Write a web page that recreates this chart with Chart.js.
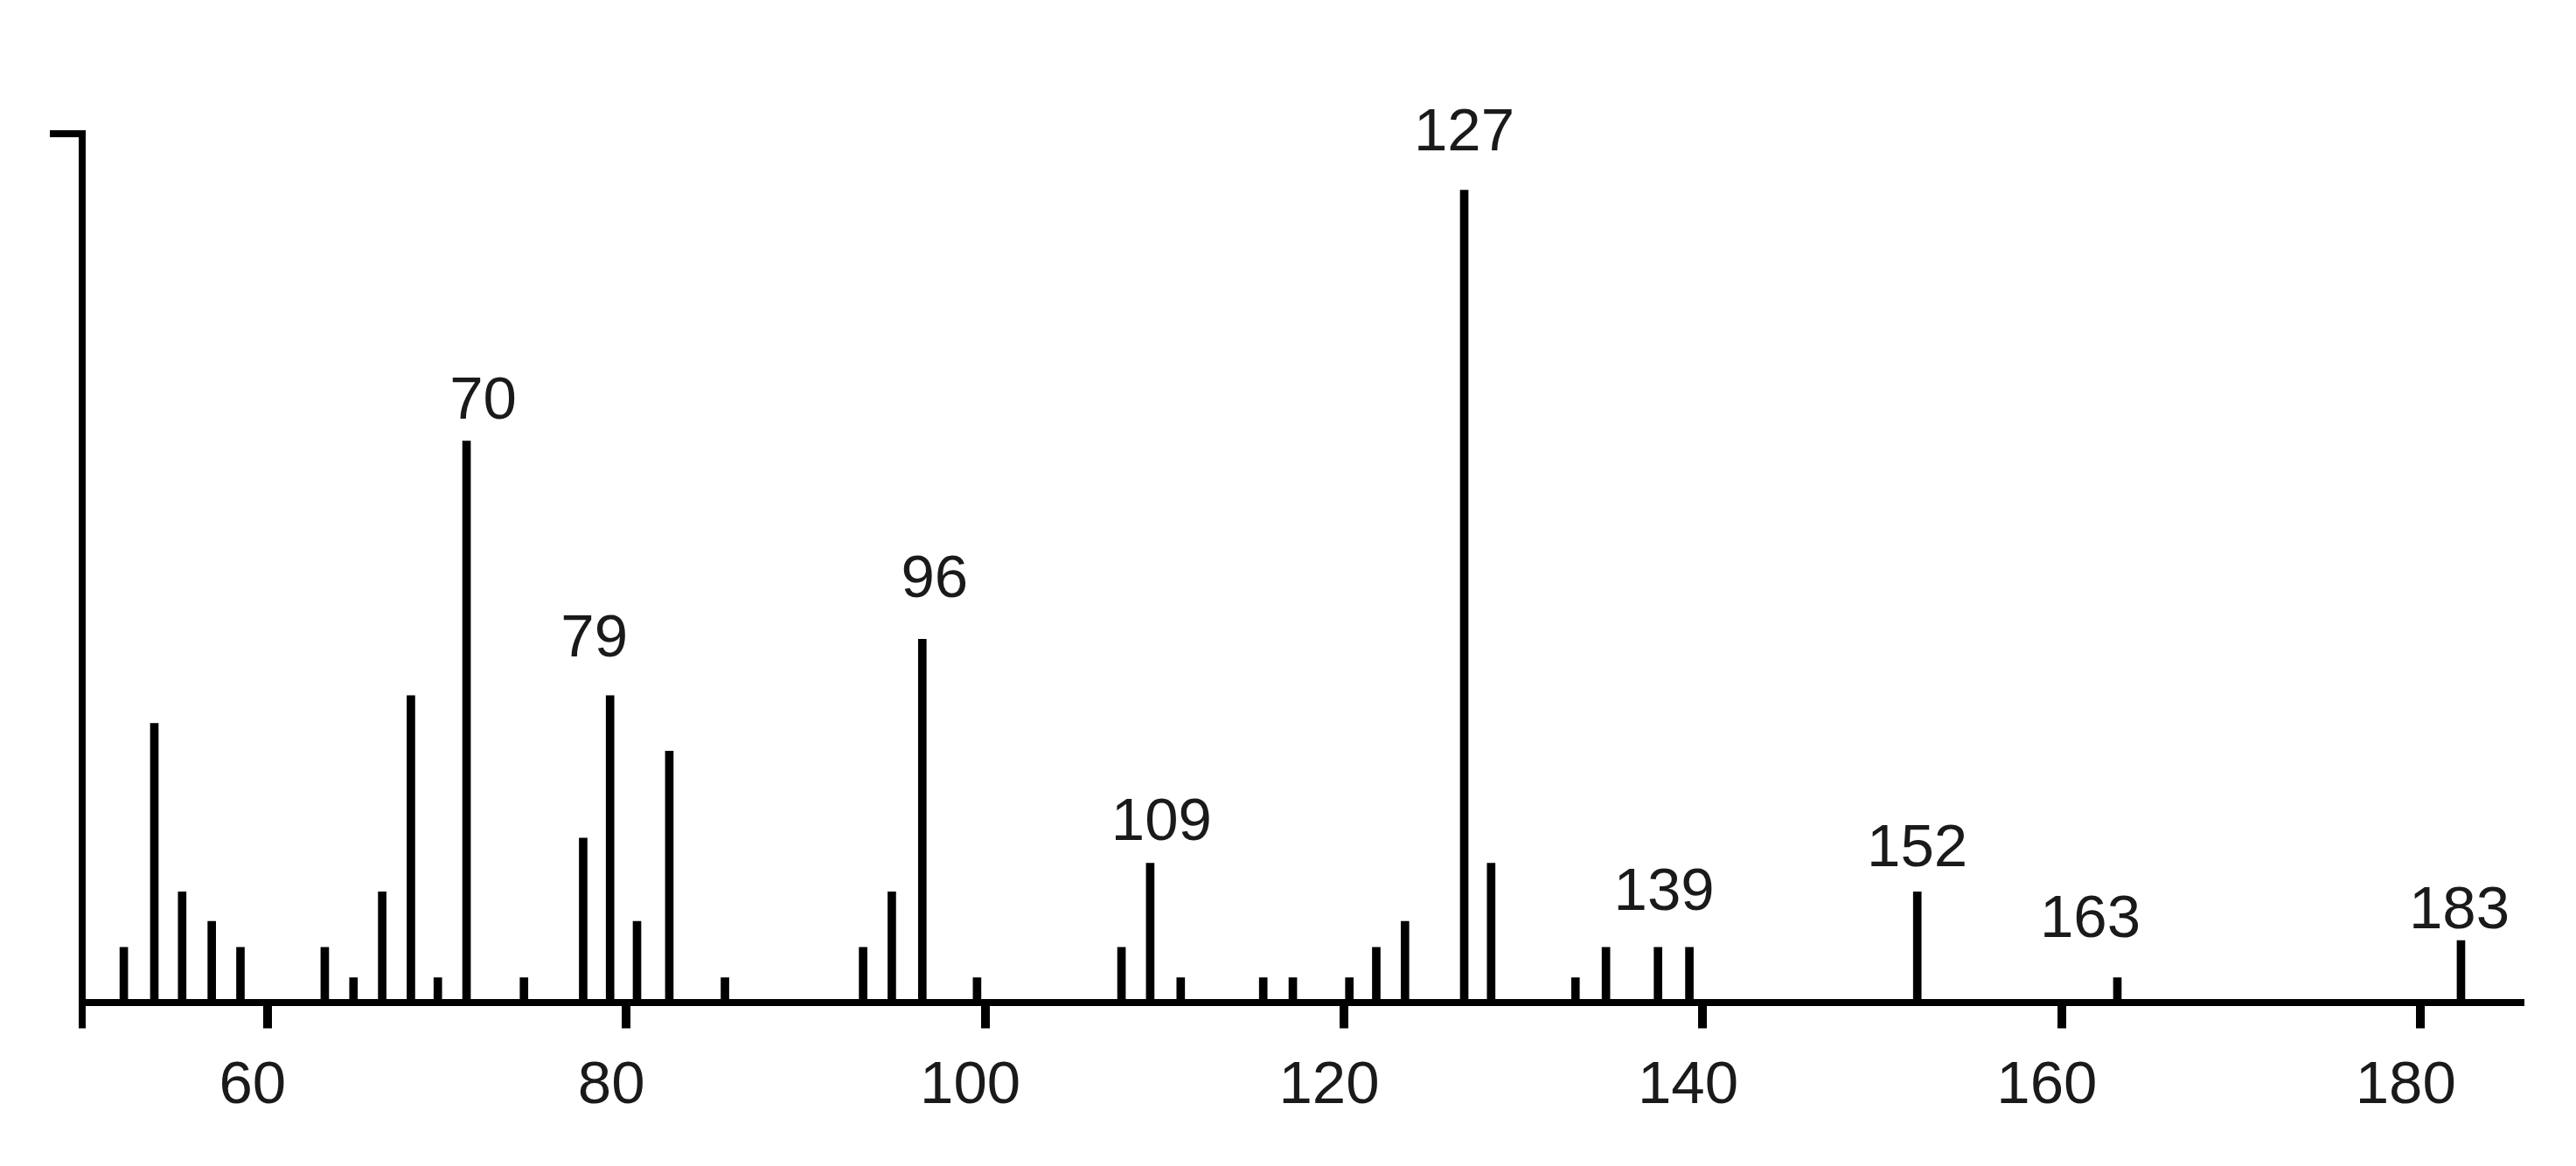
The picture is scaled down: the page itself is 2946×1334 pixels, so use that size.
<!DOCTYPE html>
<html>
<head>
<meta charset="utf-8">
<script src="https://cdn.jsdelivr.net/npm/chart.js@4.4.1/dist/chart.umd.min.js"></script>
<style>
  html, body { margin: 0; padding: 0; background: #fff; }
  canvas { display: block; }
</style>
</head>
<body>
<canvas id="spectrum" width="2946" height="1334"></canvas>
<script>
// peak positions (m/z) and relative intensities
const mz = [52.0, 53.7, 55.25, 56.9, 58.5, 63.2, 64.8, 66.4, 68.0, 69.5,
            71.1, 74.3, 77.6, 79.1, 80.6, 82.4, 85.5, 93.2, 94.8, 96.5,
            99.55, 107.6, 109.2, 110.9, 115.5, 117.15, 120.3, 121.8, 123.4, 126.7,
            128.2, 132.9, 134.6, 137.5, 139.25, 151.95, 163.1, 182.25];
const intensity = [6.3, 32.1, 12.7, 9.3, 6.3, 6.3, 2.8, 12.7, 35.3, 2.8,
                   64.6, 2.8, 18.9, 35.3, 9.3, 28.9, 2.8, 6.3, 12.7, 41.8,
                   2.8, 6.3, 16.0, 2.8, 2.8, 2.8, 2.8, 6.3, 9.3, 93.5,
                   16.0, 2.8, 6.3, 6.3, 6.3, 12.7, 2.8, 7.1];

// annotated peaks: text and index into mz
const peakLabels = ['70', '79', '96', '109', '127', '139', '152', '163', '183'];
const labelledPeak = [10, 13, 19, 22, 29, 33, 35, 36, 37];

const xTicks = [60, 80, 100, 120, 140, 160, 180];
const xMin = 49.68;
const xMax = 185.59;

const FONT = '"Liberation Sans", Arial, Helvetica, sans-serif';
Chart.defaults.font.family = FONT;
Chart.defaults.color = '#1a1a1a';

// small per-label nudges [dx, gap above bar top] to sit like the original
const labelNudge = {
    '70': [19, 26], '79': [-18, 45], '96': [14, 48], '109': [13, 27],
    '127': [0, 46], '139': [7, 43], '152': [0, 29], '163': [-31, 47], '183': [-2, 14]
};

const peakLabelPlugin = {
    id: 'peakLabels',
    afterDatasetsDraw(chart) {
        const { ctx } = chart;
        const meta = chart.getDatasetMeta(0);
        ctx.save();
        ctx.font = '69px ' + FONT;
        ctx.fillStyle = '#1a1a1a';
        ctx.textAlign = 'center';
        ctx.textBaseline = 'alphabetic';
        peakLabels.forEach((text, i) => {
            const bar = meta.data[labelledPeak[i]];
            const [dx, gap] = labelNudge[text];
            ctx.fillText(text, bar.x + dx, bar.y - gap);
        });
        ctx.restore();
    }
};

new Chart(document.getElementById('spectrum'), {
    type: 'bar',
    data: {
        datasets: [{
            data: mz.map((x, i) => ({ x: x, y: intensity[i] })),
            backgroundColor: '#000',
            barThickness: 9
        }]
    },
    options: {
        responsive: false,
        animation: false,
        layout: { padding: { left: 0, right: 63, top: 153, bottom: 0 } },
        plugins: {
            legend: { display: false },
            tooltip: { enabled: false }
        },
        scales: {
            x: {
                type: 'linear',
                min: xMin,
                max: xMax,
                offset: false,
                afterBuildTicks: (scale) => {
                    // extra tick at the left edge extends the y axis below the baseline
                    scale.ticks = [xMin].concat(xTicks).map(v => ({ value: v }));
                },
                afterFit: (scale) => { scale.height = 187.5; },
                grid: {
                    offset: false,
                    drawOnChartArea: false,
                    drawTicks: true,
                    tickLength: 30,
                    color: '#000',
                    lineWidth: (c) => (c.tick && c.tick.value === xMin ? 8 : 10)
                },
                border: { display: true, color: '#000', width: 8 },
                ticks: {
                    autoSkip: false,
                    maxRotation: 0,
                    padding: 25,
                    labelOffset: -17,
                    color: '#1a1a1a',
                    font: { size: 69 },
                    callback: (v) => (v === xMin ? '' : v)
                }
            },
            y: {
                min: 0,
                max: 100,
                afterBuildTicks: (scale) => { scale.ticks = [{ value: 100 }]; },
                afterFit: (scale) => { scale.width = 94; },
                grid: {
                    drawOnChartArea: false,
                    drawTicks: true,
                    tickLength: 37,
                    color: '#000',
                    lineWidth: 8
                },
                border: { display: true, color: '#000', width: 8 },
                ticks: { display: false }
            }
        }
    },
    plugins: [peakLabelPlugin]
});
</script>
</body>
</html>
